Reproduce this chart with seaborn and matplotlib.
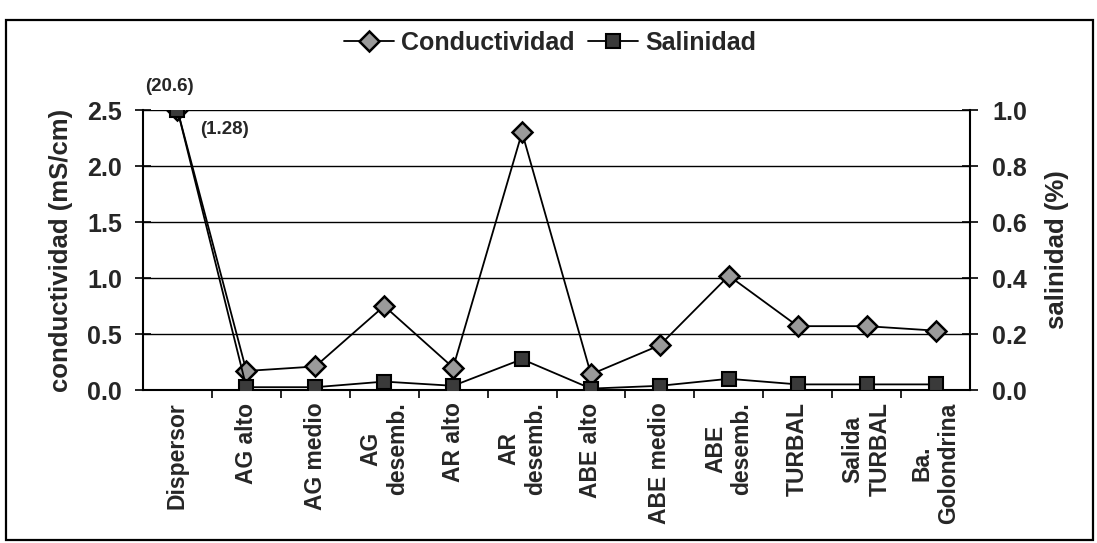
import numpy as np
import pandas as pd
import matplotlib
matplotlib.use("Agg")
import matplotlib.pyplot as plt
from matplotlib.patches import Rectangle
from matplotlib.ticker import MultipleLocator, FixedLocator
import seaborn as sns

# ---- data ----
sitios = ["Dispersor", "AG alto", "AG medio", "AG\ndesemb.", "AR alto", "AR\ndesemb.",
          "ABE alto", "ABE medio", "ABE\ndesemb.", "TURBAL", "Salida\nTURBAL", "Ba.\nGolondrina"]
conductividad = [20.6, 0.17, 0.21, 0.75, 0.20, 2.30, 0.14, 0.40, 1.02, 0.57, 0.57, 0.53]
salinidad = [1.28, 0.01, 0.01, 0.03, 0.015, 0.11, 0.005, 0.015, 0.04, 0.02, 0.02, 0.02]
cond_max = 2.5
sal_max = 1.0

sns.set_theme(style="white")
plt.rcParams['font.family'] = ['Liberation Sans', 'DejaVu Sans']
plt.rcParams['font.weight'] = 'bold'

df = pd.DataFrame({
    "pos": np.arange(len(sitios)),
    "cond": np.minimum(conductividad, cond_max),
    "sal": np.minimum(salinidad, sal_max),
})

fig = plt.figure(figsize=(10.97, 5.43), dpi=100)
ax = fig.add_axes([143/1097, 1-390/543, (970-143)/1097, (390-110)/543])
ax2 = ax.twinx()

sns.lineplot(data=df, x="pos", y="cond", ax=ax, color="black", lw=1.3,
             marker="D", markersize=10, markerfacecolor="#9a9a9a",
             markeredgecolor="black", markeredgewidth=1.8, sort=False,
             label="Conductividad", legend=False, zorder=5)
sns.lineplot(data=df, x="pos", y="sal", ax=ax2, color="black", lw=1.3,
             marker="s", markersize=10, markerfacecolor="#3a3a3a",
             markeredgecolor="black", markeredgewidth=1.5, sort=False,
             label="Salinidad", legend=False, zorder=5)

for a in (ax, ax2):
    a.set_facecolor("none")
    for s in a.spines.values():
        s.set_visible(False)
ax2.set_zorder(ax.get_zorder() + 1)

ax.set_xlim(-0.5, len(sitios) - 0.5)
ax.set_ylim(0, cond_max)
ax2.set_ylim(0, sal_max)
ax.yaxis.set_major_locator(MultipleLocator(0.5))
ax2.yaxis.set_major_locator(MultipleLocator(0.2))
ax.set_yticklabels([f"{v:.1f}" for v in ax.get_yticks()])
ax2.set_yticklabels([f"{v:.1f}" for v in ax2.get_yticks()])

# gridlines, spines
ax.yaxis.grid(True, color="black", lw=1.0)
ax.xaxis.grid(False)
ax.spines["left"].set_visible(True)
ax.spines["bottom"].set_visible(True)
ax2.spines["right"].set_visible(True)
for sp in (ax.spines["left"], ax.spines["bottom"], ax2.spines["right"]):
    sp.set_color("black")
    sp.set_linewidth(1.5)

ax.tick_params(axis="y", direction="inout", length=12, width=1.2, color="black",
               labelsize=18, pad=9, left=True)
ax2.tick_params(axis="y", direction="inout", length=12, width=1.2, color="black",
                labelsize=18, pad=10, right=True)
ax.set_xticks(df["pos"])
ax.set_xticklabels(sitios, rotation=90, fontsize=16.5, fontweight="bold",
                   va="top", ha="center", multialignment="center")
ax.xaxis.set_minor_locator(FixedLocator(df["pos"].values[:-1] + 0.5))
ax.tick_params(axis="x", which="major", length=0, pad=9)
ax.tick_params(axis="x", which="minor", direction="out", length=6, width=1.2,
               color="black", bottom=True)

ax.set_xlabel("")
ax.set_ylabel("conductividad (mS/cm)", fontsize=18.5, fontweight="bold", labelpad=10)
ax2.set_ylabel("salinidad (%)", fontsize=18.5, fontweight="bold", labelpad=13)

# off-scale value labels
ax.annotate(f"({conductividad[0]})", xy=(0, cond_max), xytext=(-6, 17),
            textcoords="offset points", ha="center", va="center",
            fontsize=13.5, fontweight="bold", annotation_clip=False)
ax.annotate(f"({salinidad[0]})", xy=(0, cond_max), xytext=(34, -14),
            textcoords="offset points", ha="center", va="center",
            fontsize=13.5, fontweight="bold", annotation_clip=False)

# legend
h1, l1 = ax.get_legend_handles_labels()
h2, l2 = ax2.get_legend_handles_labels()
fig.legend(h1 + h2, l1 + l2, loc="center", bbox_to_anchor=(550/1097, 1-43/543),
           ncol=2, frameon=False, prop={"size": 18, "weight": "bold"},
           handlelength=2.0, columnspacing=0.5, handletextpad=0.3)

# outer frame
fig.patches.append(Rectangle((6/1097, 1-540/543), (1093-6)/1097, (540-20)/543,
                             transform=fig.transFigure, fill=False,
                             edgecolor="black", lw=1.6))

fig.savefig("out.png", dpi=100)
